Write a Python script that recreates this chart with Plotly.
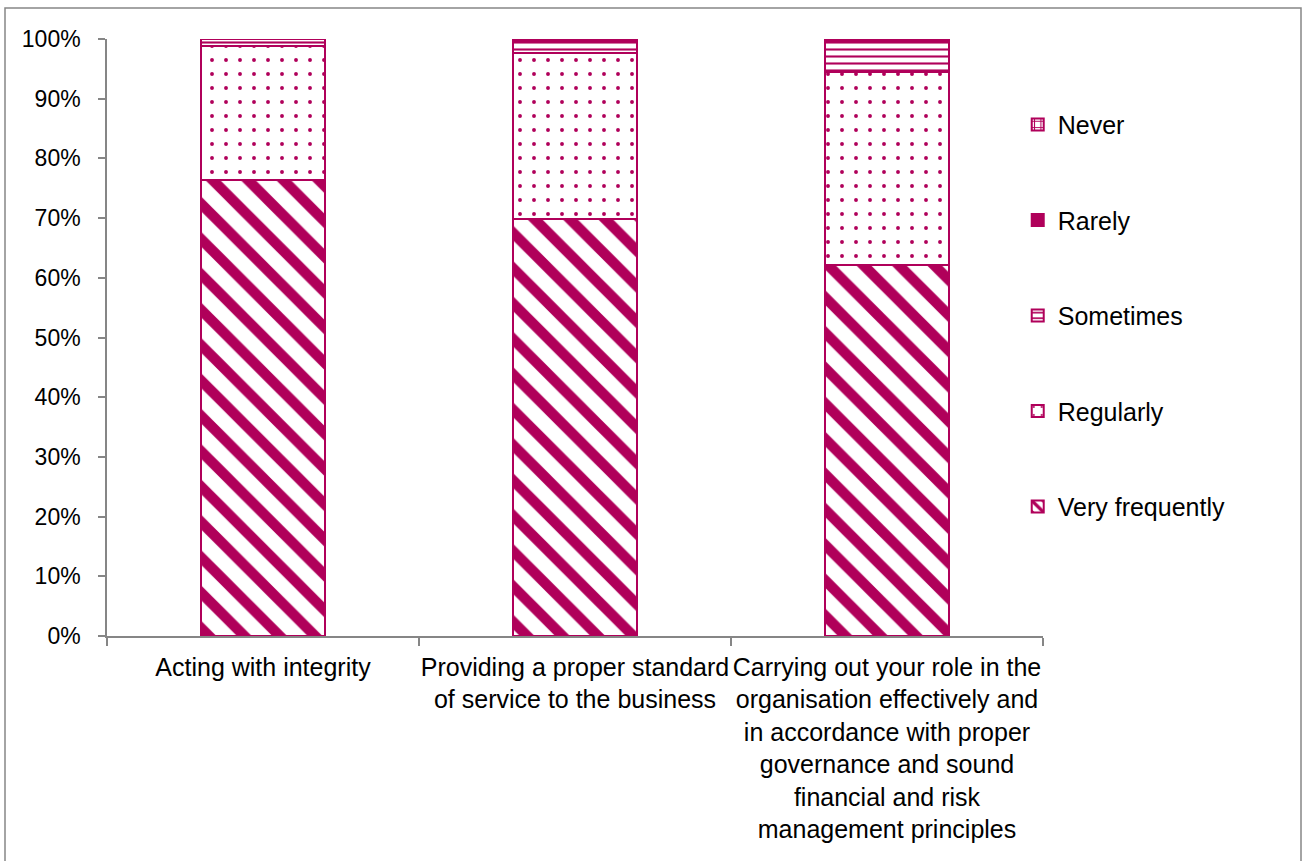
import plotly.graph_objects as go

categories = [
    "Acting with integrity",
    "Providing a proper standard<br>of service to the business",
    "Carrying out your role in the<br>organisation effectively and<br>in accordance with proper<br>governance and sound<br>financial and risk<br>management principles",
]
series_names = ["Very frequently", "Regularly", "Sometimes", "Rarely", "Never"]
very_frequently = [76.4, 69.8, 62.1]
regularly = [22.4, 27.8, 32.3]
sometimes = [1.2, 2.0, 5.1]
rarely = [0.0, 0.4, 0.5]
never = [0.0, 0.0, 0.0]
y_ticks = [0, 10, 20, 30, 40, 50, 60, 70, 80, 90, 100]

MAG = "#B0005A"
GRAY = "#868686"
FONT = "Liberation Sans"

patterns = [
    dict(shape="\\", fgcolor=MAG, bgcolor="white", size=25, solidity=0.42, fillmode="replace"),
    dict(shape=".", fgcolor=MAG, bgcolor="white", size=14, solidity=0.06, fillmode="replace"),
    dict(shape="-", fgcolor=MAG, bgcolor="white", size=7, solidity=0.3, fillmode="replace"),
    None,
    dict(shape="+", fgcolor=MAG, bgcolor="white", size=8, solidity=0.3, fillmode="replace"),
]
values = [very_frequently, regularly, sometimes, rarely, never]

fig = go.Figure()
n = len(series_names)
for i, (name, vals, pat) in enumerate(zip(series_names, values, patterns)):
    marker = dict(color=MAG if pat is None else "white", line=dict(color=MAG, width=2))
    if pat is not None:
        marker["pattern"] = pat
    fig.add_trace(go.Bar(
        x=categories, y=vals, name=name, legendgroup=name, legendrank=n - i,
        marker=marker, width=0.4,
    ))

W, H = 1303, 861
L, T = 107, 39
PW, PH = 936, 597
fig.update_layout(
    barmode="stack",
    width=W, height=H,
    margin=dict(l=L, r=W - L - PW, t=T, b=H - T - PH),
    paper_bgcolor="white", plot_bgcolor="white",
    font=dict(family=FONT, size=23, color="black"),
    legend=dict(
        x=0.973, xanchor="left", y=0.895, yanchor="top",
        traceorder="grouped", tracegroupgap=60,
        font=dict(family=FONT, size=25, color="black"),
        itemwidth=30,
    ),
    shapes=[dict(
        type="rect", xref="paper", yref="paper",
        x0=(5 - L) / PW, x1=(1301 - L) / PW,
        y0=-0.6, y1=(636 - 8) / PH,
        line=dict(color=GRAY, width=1.5), fillcolor="rgba(0,0,0,0)", layer="below",
    )],
)
fig.update_yaxes(
    range=[0, 100], tickvals=y_ticks, ticktext=[f"{v}%" for v in y_ticks],
    showgrid=False, zeroline=False, showline=True, linecolor=GRAY, linewidth=1.5,
    ticks="outside", ticklen=7, tickcolor=GRAY, tickwidth=1.5,
    tickfont=dict(family=FONT, size=23), ticklabelstandoff=13,
)
fig.update_xaxes(
    showgrid=False, showline=True, linecolor=GRAY, linewidth=1.5,
    ticks="outside", tickson="boundaries", ticklen=8, tickcolor=GRAY, tickwidth=1.5,
    tickfont=dict(family=FONT, size=25), tickangle=0, ticklabelstandoff=8,
)

fig.write_html(
    "out.html",
    config={"displayModeBar": False},
    post_script="document.body.style.margin='0';document.body.style.overflow='hidden';",
)
